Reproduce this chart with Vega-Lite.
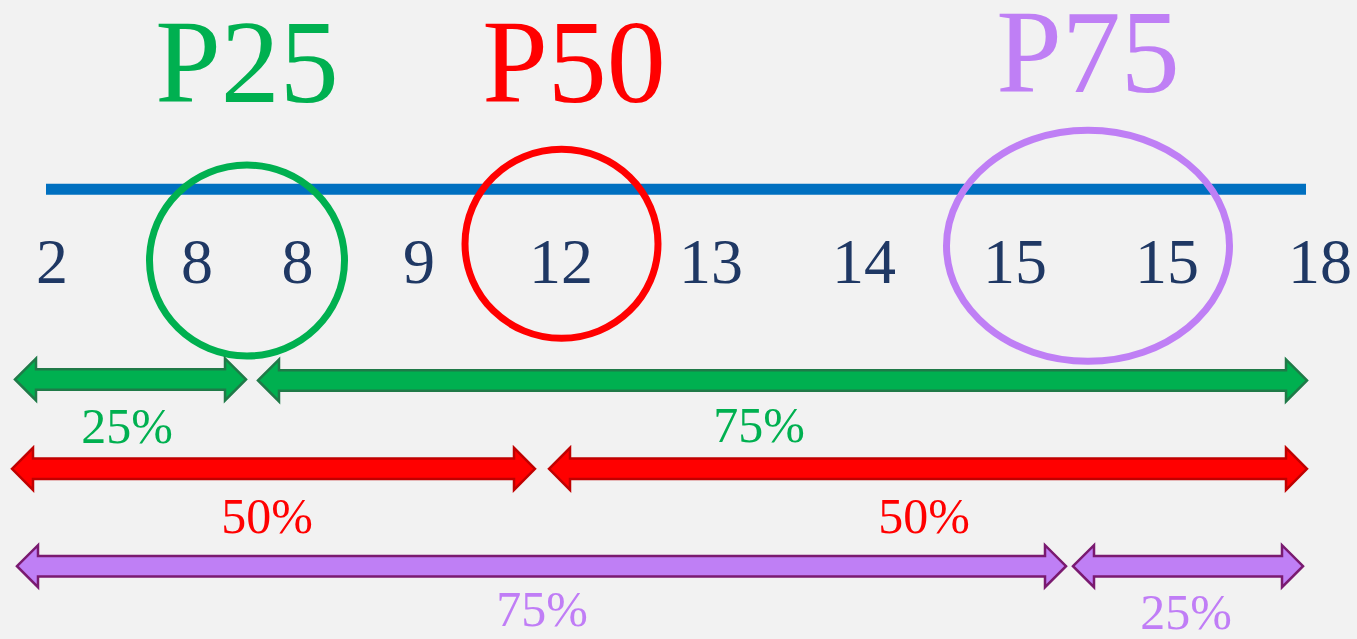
{
  "$schema": "https://vega.github.io/schema/vega-lite/v6.json",
  "width": 1357,
  "height": 639,
  "autosize": {"type": "fit", "contains": "padding"},
  "padding": 0,
  "background": "#f2f2f2",
  "config": {"view": {"stroke": null}, "text": {"font": "Times New Roman, Liberation Serif, DejaVu Serif, serif"}},
  "datasets": {
    "line": [{"x": 46, "x2": 1306, "y": 188.5}],
    "nums": [
      {"n": "2", "x": 52, "y": 284},
      {"n": "8", "x": 197, "y": 284},
      {"n": "8", "x": 297.5, "y": 284},
      {"n": "9", "x": 419, "y": 284},
      {"n": "12", "x": 561, "y": 284},
      {"n": "13", "x": 711, "y": 284},
      {"n": "14", "x": 864, "y": 284},
      {"n": "15", "x": 1015, "y": 284},
      {"n": "15", "x": 1167, "y": 284},
      {"n": "18", "x": 1320, "y": 284}
    ],
    "circles": [
      {"p": "P25", "x": 247, "y": 261},
      {"p": "P50", "x": 561.5, "y": 244},
      {"p": "P75", "x": 1088, "y": 246}
    ],
    "titles": [
      {"p": "P25", "x": 247, "y": 100},
      {"p": "P50", "x": 574, "y": 100},
      {"p": "P75", "x": 1088, "y": 90}
    ],
    "arrows": [
      {"g": "green", "a": 15, "b": 246, "y": 382},
      {"g": "green", "a": 258, "b": 1307, "y": 383},
      {"g": "red", "a": 12, "b": 535, "y": 473},
      {"g": "red", "a": 549, "b": 1307, "y": 473},
      {"g": "purple", "a": 17, "b": 1066, "y": 572},
      {"g": "purple", "a": 1073, "b": 1303, "y": 572}
    ],
    "pcts": [
      {"g": "green", "t": "25%", "x": 127, "y": 447},
      {"g": "green", "t": "75%", "x": 759, "y": 446},
      {"g": "red", "t": "50%", "x": 267, "y": 538},
      {"g": "red", "t": "50%", "x": 924, "y": 538},
      {"g": "purple", "t": "75%", "x": 542, "y": 633},
      {"g": "purple", "t": "25%", "x": 1186, "y": 636}
    ]
  },
  "layer": [
    {
      "data": {"name": "line"},
      "mark": {"type": "rule", "strokeWidth": 11, "color": "#0070c0", "strokeCap": "butt"},
      "encoding": {
        "x": {"field": "x", "type": "quantitative", "scale": {"domain": [0, 1357], "nice": false, "zero": false}, "axis": null},
        "x2": {"field": "x2"},
        "y": {"field": "y", "type": "quantitative", "scale": {"domain": [0, 639], "nice": false, "zero": false, "reverse": true}, "axis": null}
      }
    },
    {
      "data": {"name": "nums"},
      "mark": {"type": "text", "fontSize": 64, "color": "#1f3864", "baseline": "alphabetic", "align": "center"},
      "encoding": {
        "x": {"field": "x", "type": "quantitative", "scale": {"domain": [0, 1357], "nice": false, "zero": false}, "axis": null},
        "y": {"field": "y", "type": "quantitative", "scale": {"domain": [0, 639], "nice": false, "zero": false, "reverse": true}, "axis": null},
        "text": {"field": "n"}
      }
    },
    {
      "data": {"name": "circles"},
      "mark": {"type": "point", "filled": false, "size": 4, "strokeWidth": 7, "opacity": 1},
      "encoding": {
        "x": {"field": "x", "type": "quantitative", "scale": {"domain": [0, 1357], "nice": false, "zero": false}, "axis": null},
        "y": {"field": "y", "type": "quantitative", "scale": {"domain": [0, 639], "nice": false, "zero": false, "reverse": true}, "axis": null},
        "shape": {"field": "p", "type": "nominal", "legend": null, "scale": {"domain": ["P25", "P50", "P75"], "range": [
          "M -97.5 0 A 97.5 95.5 0 1 0 97.5 0 A 97.5 95.5 0 1 0 -97.5 0 Z",
          "M -96.5 0 A 96.5 94.5 0 1 0 96.5 0 A 96.5 94.5 0 1 0 -96.5 0 Z",
          "M -141.5 0 A 141.5 115.5 0 1 0 141.5 0 A 141.5 115.5 0 1 0 -141.5 0 Z"
        ]}},
        "stroke": {"field": "p", "type": "nominal", "legend": null, "scale": {"domain": ["P25", "P50", "P75"], "range": ["#00b050", "#ff0000", "#bf7ff5"]}}
      }
    },
    {
      "data": {"name": "titles"},
      "mark": {"type": "text", "fontSize": 118, "baseline": "alphabetic", "align": "center"},
      "encoding": {
        "x": {"field": "x", "type": "quantitative", "scale": {"domain": [0, 1357], "nice": false, "zero": false}, "axis": null},
        "y": {"field": "y", "type": "quantitative", "scale": {"domain": [0, 639], "nice": false, "zero": false, "reverse": true}, "axis": null},
        "text": {"field": "p"},
        "color": {"field": "p", "type": "nominal", "legend": null, "scale": {"domain": ["P25", "P50", "P75"], "range": ["#00b050", "#ff0000", "#bf7ff5"]}}
      }
    },
    {
      "data": {"name": "arrows"},
      "mark": {"type": "rule", "strokeWidth": 23, "strokeCap": "butt", "xOffset": 17, "x2Offset": -17},
      "encoding": {
        "x": {"field": "a", "type": "quantitative", "scale": {"domain": [0, 1357], "nice": false, "zero": false}, "axis": null},
        "x2": {"field": "b"},
        "y": {"field": "y", "type": "quantitative", "scale": {"domain": [0, 639], "nice": false, "zero": false, "reverse": true}, "axis": null},
        "stroke": {"field": "g", "type": "nominal", "legend": null, "scale": {"domain": ["green", "red", "purple"], "range": ["#1f7a48", "#c00000", "#7a1a70"]}}
      }
    },
    {
      "data": {"name": "arrows"},
      "mark": {"type": "point", "filled": true, "size": 4, "opacity": 1, "strokeWidth": 2.5, "strokeJoin": "miter", "shape": "M 0 0 L 21 -21 L 21 21 Z"},
      "encoding": {
        "x": {"field": "a", "type": "quantitative", "scale": {"domain": [0, 1357], "nice": false, "zero": false}, "axis": null},
        "y": {"field": "y", "type": "quantitative", "scale": {"domain": [0, 639], "nice": false, "zero": false, "reverse": true}, "axis": null},
        "fill": {"field": "g", "type": "nominal", "legend": null, "scale": {"domain": ["green", "red", "purple"], "range": ["#00b050", "#ff0000", "#bf7ff5"]}},
        "stroke": {"field": "g", "type": "nominal", "legend": null, "scale": {"domain": ["green", "red", "purple"], "range": ["#1f7a48", "#c00000", "#7a1a70"]}}
      }
    },
    {
      "data": {"name": "arrows"},
      "mark": {"type": "point", "filled": true, "size": 4, "opacity": 1, "strokeWidth": 2.5, "strokeJoin": "miter", "shape": "M 0 0 L -21 -21 L -21 21 Z"},
      "encoding": {
        "x": {"field": "b", "type": "quantitative", "scale": {"domain": [0, 1357], "nice": false, "zero": false}, "axis": null},
        "y": {"field": "y", "type": "quantitative", "scale": {"domain": [0, 639], "nice": false, "zero": false, "reverse": true}, "axis": null},
        "fill": {"field": "g", "type": "nominal", "legend": null, "scale": {"domain": ["green", "red", "purple"], "range": ["#00b050", "#ff0000", "#bf7ff5"]}},
        "stroke": {"field": "g", "type": "nominal", "legend": null, "scale": {"domain": ["green", "red", "purple"], "range": ["#1f7a48", "#c00000", "#7a1a70"]}}
      }
    },
    {
      "data": {"name": "arrows"},
      "mark": {"type": "rule", "strokeWidth": 18, "strokeCap": "butt", "xOffset": 11, "x2Offset": -11},
      "encoding": {
        "x": {"field": "a", "type": "quantitative", "scale": {"domain": [0, 1357], "nice": false, "zero": false}, "axis": null},
        "x2": {"field": "b"},
        "y": {"field": "y", "type": "quantitative", "scale": {"domain": [0, 639], "nice": false, "zero": false, "reverse": true}, "axis": null},
        "stroke": {"field": "g", "type": "nominal", "legend": null, "scale": {"domain": ["green", "red", "purple"], "range": ["#00b050", "#ff0000", "#bf7ff5"]}}
      }
    },
    {
      "data": {"name": "pcts"},
      "mark": {"type": "text", "fontSize": 50, "baseline": "alphabetic", "align": "center"},
      "encoding": {
        "x": {"field": "x", "type": "quantitative", "scale": {"domain": [0, 1357], "nice": false, "zero": false}, "axis": null},
        "y": {"field": "y", "type": "quantitative", "scale": {"domain": [0, 639], "nice": false, "zero": false, "reverse": true}, "axis": null},
        "text": {"field": "t"},
        "color": {"field": "g", "type": "nominal", "legend": null, "scale": {"domain": ["green", "red", "purple"], "range": ["#00b050", "#ff0000", "#c07df6"]}}
      }
    }
  ],
  "resolve": {"scale": {"color": "independent", "stroke": "independent", "fill": "independent", "shape": "independent"}}
}
